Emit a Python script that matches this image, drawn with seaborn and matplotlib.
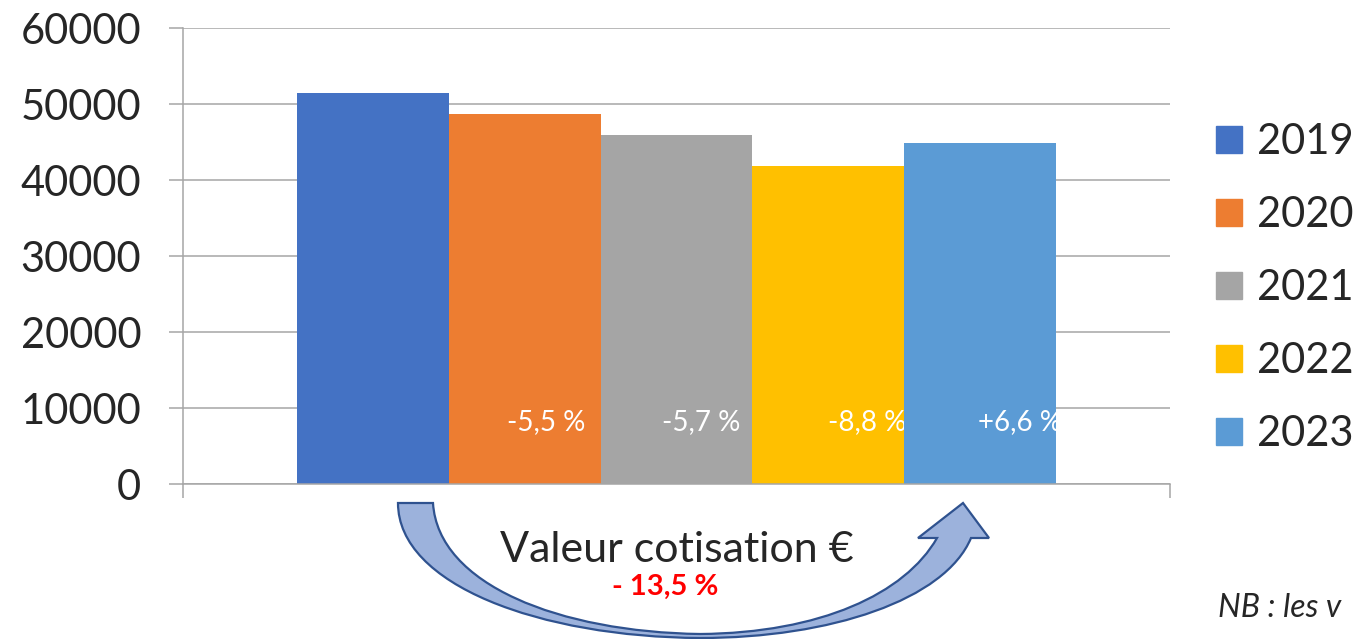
import matplotlib.pyplot as plt
import matplotlib.patches as mpatches
from matplotlib.path import Path
import pandas as pd
import seaborn as sns

sns.set_theme(style="white")
plt.rcParams['font.family'] = ['Lato', 'DejaVu Sans']

# data
category = "Valeur cotisation €"
years = ["2019", "2020", "2021", "2022", "2023"]
values = [51500, 48700, 45900, 41900, 44900]
changes = ["", "-5,5 %", "-5,7 %", "-8,8 %", "+6,6 %"]
total_change = "- 13,5 %"
colors = ["#4472C4", "#ED7D31", "#A5A5A5", "#FFC000", "#5B9BD5"]

df = pd.DataFrame({"cat": [category] * len(years), "year": years, "val": values})

W, H = 1358, 639
fig = plt.figure(figsize=(W / 100, H / 100), dpi=100)
ax = fig.add_axes([183 / W, 1 - 484 / H, (1170 - 183) / W, (484 - 28) / H])

sns.barplot(data=df, x="cat", y="val", hue="year", hue_order=years,
            palette=colors, saturation=1, width=0.768, legend=False,
            linewidth=0, ax=ax)

grid_c = "#A6A6A6"
ax.set_xlim(-0.5, 0.5)
ax.set_ylim(0, 60000)
ax.set_yticks(range(0, 60001, 10000))
ax.yaxis.grid(True, color=grid_c, linewidth=1.1)
ax.set_axisbelow(True)
ax.set_xlabel("")
ax.set_ylabel("")
for s in ["top", "right"]:
    ax.spines[s].set_visible(False)
for s in ["left", "bottom"]:
    ax.spines[s].set_color(grid_c)
    ax.spines[s].set_linewidth(1.1)
ax.tick_params(axis="y", labelsize=30, length=10, width=1.1, color=grid_c,
               direction="out", pad=20, left=True)
ax.tick_params(axis="x", labelsize=31, length=0, pad=34)
ax.set_xticks([-0.5, 0.5], minor=True)
ax.tick_params(axis="x", which="minor", length=10, width=1.1, color=grid_c,
               direction="out", bottom=True)

# percentage labels inside bars
offsets = [0, 21, 25, 39, 40]
bars = ax.patches
for bar, lab, off in zip(bars, changes, offsets):
    if not lab:
        continue
    t = ax.annotate(lab, (bar.get_x() + bar.get_width() / 2, 8200),
                    xytext=(off * 0.72, 0), textcoords="offset points",
                    ha="center", va="center", color="white", fontsize=20)
    t.set_clip_path(bar)

# legend
handles = [mpatches.Patch(color=c, label=y) for c, y in zip(colors, years)]
fig.legend(handles=handles, loc="center left",
           bbox_to_anchor=(1216 / W, 1 - 288 / H), frameon=False,
           fontsize=30, handlelength=0.62, handleheight=0.62,
           handletextpad=0.36, labelspacing=0.84, borderpad=0,
           borderaxespad=0)

# curved arrow overlay
ov = fig.add_axes([0, 0, 1, 1], zorder=-1)
ov.set_xlim(0, W)
ov.set_ylim(H, 0)
ov.axis("off")
verts = [
    (398, 503),
    (398, 585), (540, 637), (700, 638),
    (830, 638), (945, 600), (971, 538),
    (989, 538), (963, 503), (918, 538), (937, 538),
    (905, 594), (820, 633), (700, 634),
    (560, 632), (438, 585), (433, 503),
    (398, 503),
]
codes = ([Path.MOVETO] + [Path.CURVE4] * 6 + [Path.LINETO] * 4
         + [Path.CURVE4] * 6 + [Path.CLOSEPOLY])
ov.add_patch(mpatches.PathPatch(Path(verts, codes), facecolor="#9CB2DC",
                                edgecolor="#2F528F", linewidth=1.6))

fig.text(665 / W, 1 - 587 / H, total_change, color="#FF0000",
         fontsize=21, fontweight="bold", ha="center", va="center")
fig.text(1218 / W, 1 - 608 / H, "NB : les v", fontsize=23,
         style="italic", ha="left", va="center")

fig.savefig("out.png", dpi=100)
